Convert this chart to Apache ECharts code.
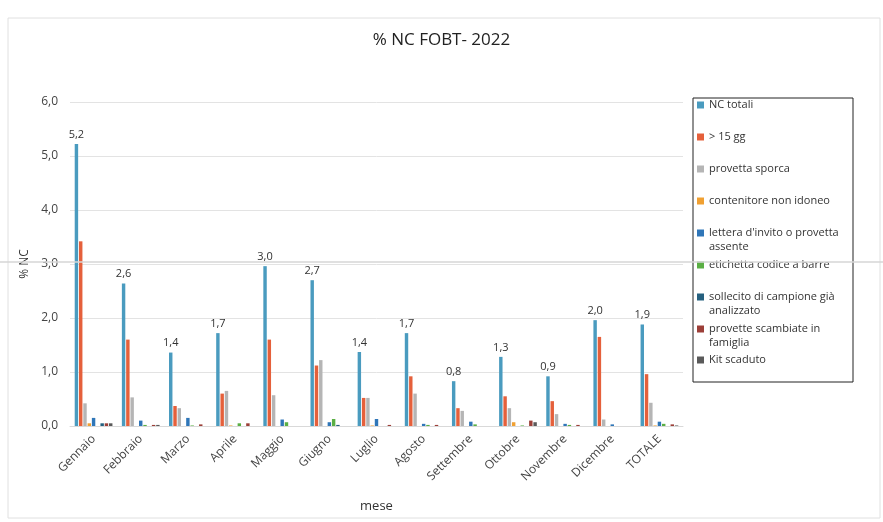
<!DOCTYPE html>
<html>
<head>
<meta charset="utf-8">
<script src="https://cdn.jsdelivr.net/npm/echarts@6/dist/echarts.min.js"></script>
<style>html,body{margin:0;padding:0;background:#fff}#c{width:883px;height:522px}</style>
</head>
<body>
<div id="c"></div>
<script>
var categories = ['Gennaio','Febbraio','Marzo','Aprile','Maggio','Giugno','Luglio','Agosto','Settembre','Ottobre','Novembre','Dicembre','TOTALE'];
var seriesNames = ['NC totali','> 15 gg','provetta sporca','contenitore non idoneo','lettera d\'invito o provetta assente','etichetta codice a barre','sollecito di campione già analizzato','provette scambiate in famiglia','Kit scaduto'];
var ncTotali      = [5.22, 2.64, 1.36, 1.72, 2.96, 2.70, 1.37, 1.72, 0.83, 1.28, 0.92, 1.96, 1.88];
var oltre15gg     = [3.42, 1.60, 0.37, 0.60, 1.60, 1.12, 0.52, 0.92, 0.33, 0.55, 0.46, 1.65, 0.96];
var provettaSporca= [0.42, 0.53, 0.33, 0.65, 0.57, 1.22, 0.52, 0.60, 0.28, 0.33, 0.22, 0.12, 0.43];
var contenitore   = [0.05, 0.00, 0.00, 0.01, 0.00, 0.00, 0.01, 0.00, 0.00, 0.07, 0.00, 0.00, 0.01];
var lettera       = [0.15, 0.10, 0.15, 0.00, 0.12, 0.07, 0.13, 0.04, 0.08, 0.00, 0.04, 0.03, 0.08];
var etichetta     = [0.00, 0.02, 0.01, 0.05, 0.07, 0.13, 0.00, 0.02, 0.03, 0.01, 0.02, 0.00, 0.04];
var sollecito     = [0.05, 0.00, 0.00, 0.00, 0.00, 0.02, 0.00, 0.00, 0.00, 0.00, 0.00, 0.00, 0.00];
var scambiate     = [0.05, 0.02, 0.03, 0.05, 0.00, 0.00, 0.02, 0.02, 0.00, 0.10, 0.02, 0.00, 0.03];
var kitScaduto    = [0.05, 0.02, 0.00, 0.00, 0.00, 0.00, 0.00, 0.00, 0.00, 0.07, 0.00, 0.00, 0.01];
var yTicks = ['0,0','1,0','2,0','3,0','4,0','5,0','6,0'];

var allData = [ncTotali, oltre15gg, provettaSporca, contenitore, lettera, etichetta, sollecito, scambiate, kitScaduto];
var colors = ['#4a9bbf','#e5603b','#b5b5b5','#f0a032','#2f76b8','#5aaf44','#25607f','#9c3f38','#5a5a5a'];
var legendText = {
  'lettera d\'invito o provetta assente': ' \nlettera d\'invito o provetta\nassente',
  'sollecito di campione già analizzato': ' \nsollecito di campione già\nanalizzato',
  'provette scambiate in famiglia': ' \nprovette scambiate in\nfamiglia'
};
var legendCenters = [105, 137, 169, 201, 233, 265, 297, 329, 360];

var chart = echarts.init(document.getElementById('c'));
var series = seriesNames.map(function(n, i){
  var s = {
    name: n, type: 'bar', data: allData[i],
    itemStyle: {color: colors[i]},
    barGap: '25%', barCategoryGap: '20%'
  };
  if (i === 0) {
    s.label = {show: true, position: 'top', fontSize: 11, color: '#333', distance: 4,
      fontFamily: 'Open Sans',
      formatter: function(p){ return (Math.round(p.value * 10) / 10).toFixed(1).replace('.', ','); }};
  }
  return s;
});
var legends = seriesNames.map(function(n, i){
  var multi = !!legendText[n];
  return {
    data: [n], orient: 'vertical', left: 697,
    top: legendCenters[i] - (multi ? 21 : 7),
    itemWidth: 7, itemHeight: 7, itemGap: 0, padding: 0,
    icon: 'rect',
    formatter: function(name){ return legendText[name] || name; },
    textStyle: {fontSize: 11, lineHeight: 14, color: '#333', fontFamily: 'Open Sans'}
  };
});
chart.setOption({
  animation: false,
  textStyle: {fontFamily: 'Open Sans'},
  title: {text: '% NC FOBT- 2022', left: 'center', top: 27,
    textStyle: {fontSize: 17, fontWeight: 'normal', color: '#222', fontFamily: 'Open Sans'}},
  grid: {left: 70, right: 200, top: 102, bottom: 96},
  legend: legends,
  xAxis: {
    type: 'category', data: categories,
    name: 'mese', nameLocation: 'middle', nameGap: 74,
    nameTextStyle: {fontSize: 13, color: '#333'},
    axisLine: {show: true, lineStyle: {color: '#d9d9d9'}},
    axisTick: {show: false},
    axisLabel: {rotate: 45, fontSize: 12, color: '#444', interval: 0, margin: 11}
  },
  yAxis: {
    type: 'value', min: 0, max: 6, interval: 1,
    name: '% NC', nameLocation: 'middle', nameGap: 36,
    nameTextStyle: {fontSize: 12, color: '#333'},
    axisLine: {show: false}, axisTick: {show: false},
    axisLabel: {fontSize: 12, color: '#444', margin: 12,
      formatter: function(v){ return yTicks[Math.round(v)]; }},
    splitLine: {lineStyle: {color: '#e3e3e3'}}
  },
  graphic: [
    {type: 'rect', shape: {x: 693, y: 98, width: 160, height: 284}, style: {fill: 'none', stroke: '#222', lineWidth: 1}, z: 10},
    {type: 'rect', shape: {x: 8, y: 18, width: 872, height: 500}, style: {fill: 'none', stroke: '#e0e0e0', lineWidth: 1}, z: -1},
    {type: 'line', shape: {x1: 0, y1: 262, x2: 883, y2: 262}, style: {stroke: '#d6d6d6', lineWidth: 1.5}, z: 20}
  ],
  series: series
});
</script>
</body>
</html>
